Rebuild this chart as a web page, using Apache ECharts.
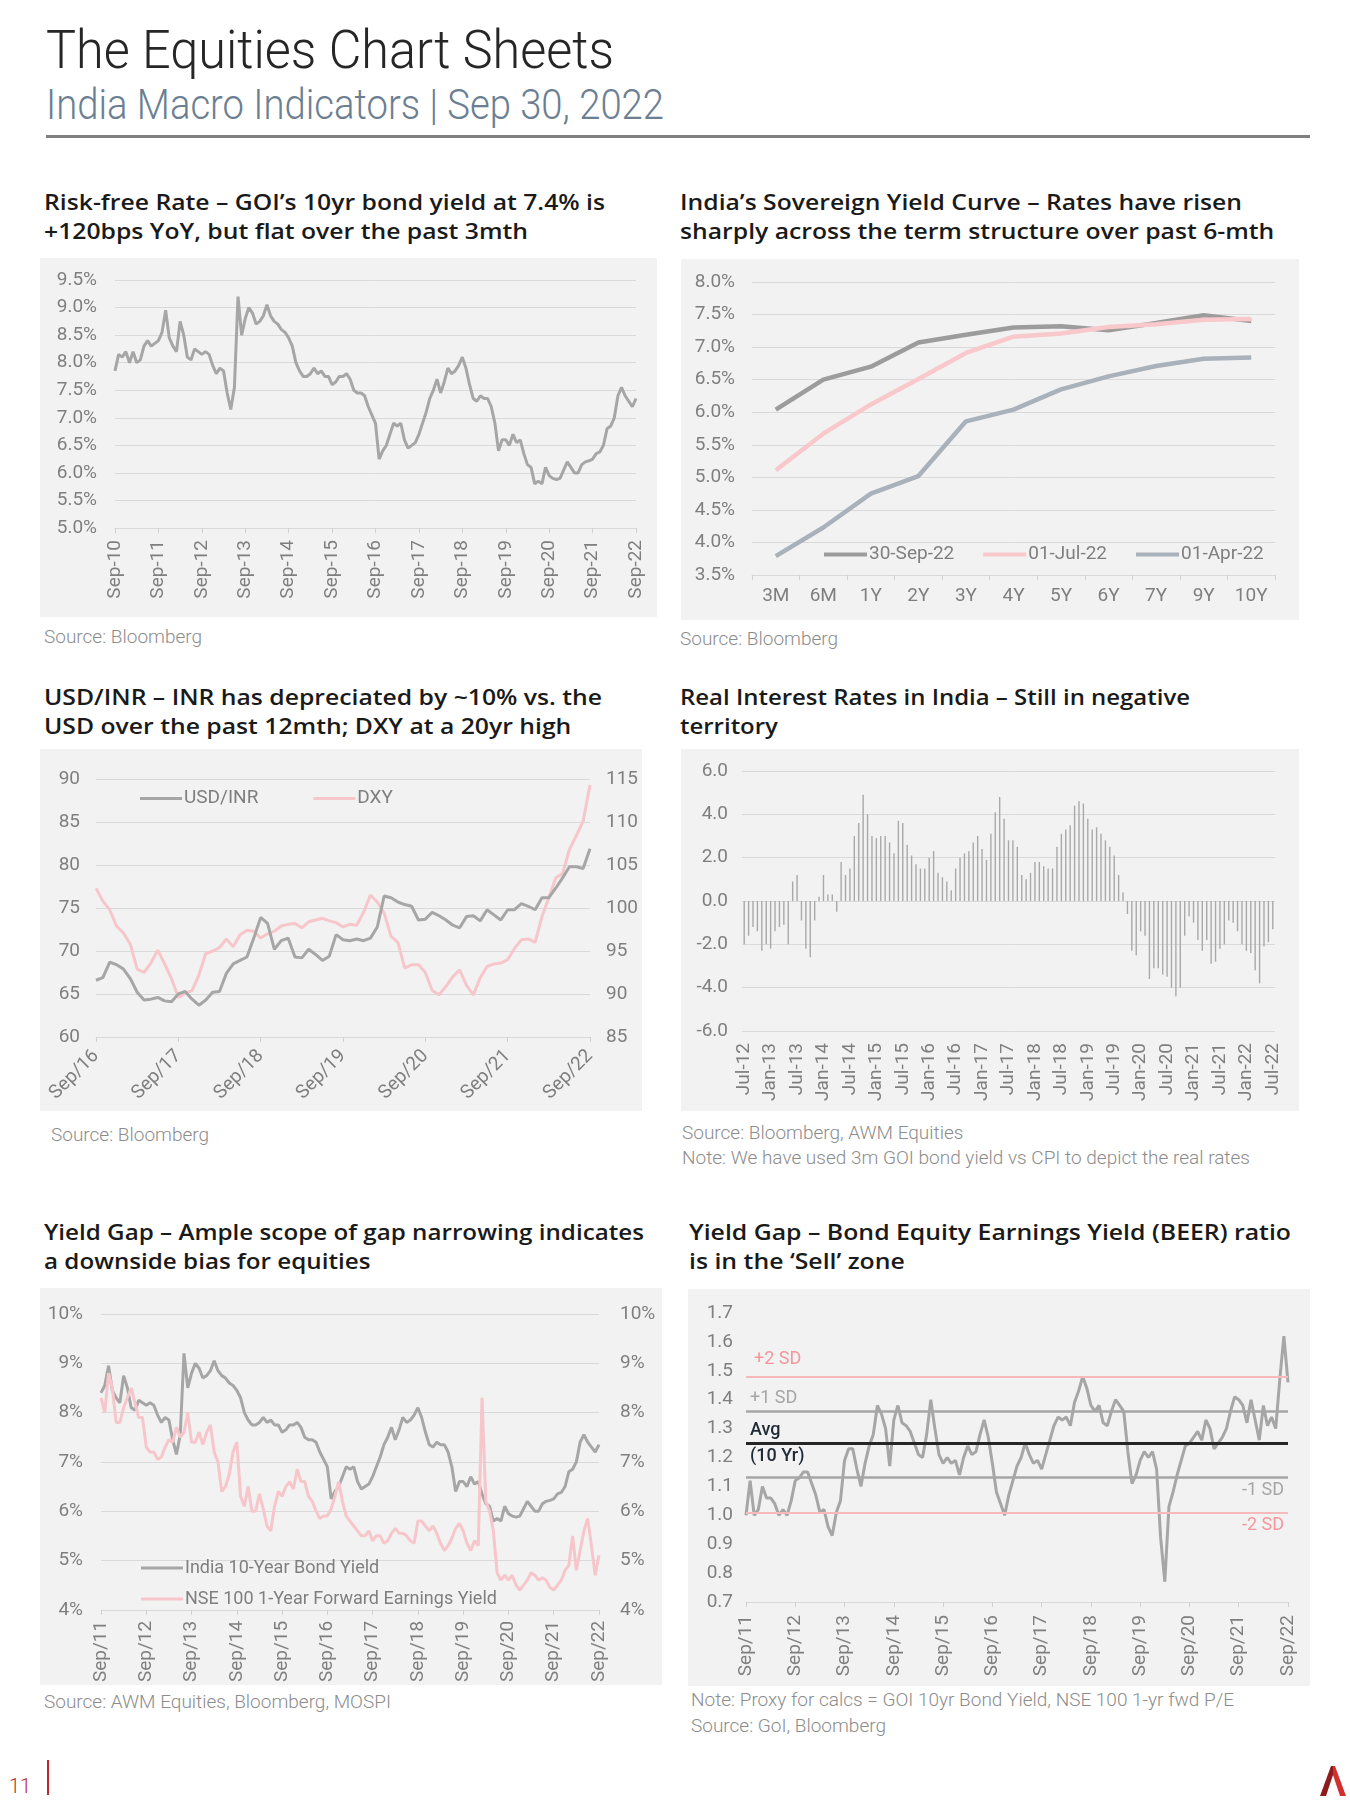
<!DOCTYPE html>
<html><head><meta charset="utf-8">
<script src="https://cdn.jsdelivr.net/npm/echarts@6/dist/echarts.min.js"></script>
<style>
html,body{margin:0;padding:0;background:#fff;}
body{width:1350px;height:1800px;position:relative;overflow:hidden;font-family:Roboto,'Noto Sans',sans-serif;}
.abs{position:absolute;}
.h1{left:46px;top:23px;font:300 54px/54px Roboto;color:#262626;white-space:nowrap;transform-origin:0 0;}
.h2{left:46px;top:84px;font:300 42px/42px Roboto;color:#6b7e92;white-space:nowrap;transform-origin:0 0;}
.rule{left:46px;top:135px;width:1264px;height:3px;background:#808080;}
.ptitle{position:absolute;font:600 22px/29px 'Open Sans';color:#1a1a1a;white-space:nowrap;transform-origin:0 0;}
.src{position:absolute;font:300 19px/25px Roboto;color:#8c8c8c;white-space:nowrap;}
.chart{position:absolute;background:#f2f2f2;}
</style></head>
<body>
<div class="abs h1" id="h1">The Equities Chart Sheets</div>
<div class="abs h2" id="h2">India Macro Indicators | Sep 30, 2022</div>
<div class="abs rule"></div>

<div class="ptitle" id="t1" style="left:44px;top:187px"><span>Risk-free Rate – GOI’s 10yr bond yield at 7.4% is</span><br><span>+120bps YoY, but flat over the past 3mth</span></div>
<div class="ptitle" id="t2" style="left:680px;top:187px"><span>India’s Sovereign Yield Curve – Rates have risen</span><br><span>sharply across the term structure over past 6-mth</span></div>
<div class="ptitle" id="t3" style="left:44px;top:682px"><span>USD/INR – INR has depreciated by ~10% vs. the</span><br><span>USD over the past 12mth; DXY at a 20yr high</span></div>
<div class="ptitle" id="t4" style="left:680px;top:682px"><span>Real Interest Rates in India – Still in negative</span><br><span>territory</span></div>
<div class="ptitle" id="t5" style="left:44px;top:1217px"><span>Yield Gap – Ample scope of gap narrowing indicates</span><br><span>a downside bias for equities</span></div>
<div class="ptitle" id="t6" style="left:689px;top:1217px"><span>Yield Gap – Bond Equity Earnings Yield (BEER) ratio</span><br><span>is in the ‘Sell’ zone</span></div>

<div class="chart" id="c1" style="left:40px;top:258px;width:617px;height:359px"></div>
<div class="chart" id="c2" style="left:681px;top:259px;width:618px;height:361px"></div>
<div class="chart" id="c3" style="left:40px;top:749px;width:602px;height:362px"></div>
<div class="chart" id="c4" style="left:681px;top:749px;width:618px;height:362px"></div>
<div class="chart" id="c5" style="left:40px;top:1288px;width:622px;height:397px"></div>
<div class="chart" id="c6" style="left:688px;top:1289px;width:622px;height:397px"></div>

<div class="src" style="left:44px;top:624px">Source: Bloomberg</div>
<div class="src" style="left:680px;top:626px">Source: Bloomberg</div>
<div class="src" style="left:51px;top:1122px">Source: Bloomberg</div>
<div class="src" style="left:682px;top:1120px">Source: Bloomberg, AWM Equities</div>
<div class="src" style="left:682px;top:1145px">Note: We have used 3m GOI bond yield vs CPI to depict the real rates</div>
<div class="src" style="left:44px;top:1689px">Source: AWM Equities, Bloomberg, MOSPI</div>
<div class="src" style="left:691px;top:1687px">Note: Proxy for calcs = GOI 10yr Bond Yield, NSE 100 1-yr fwd P/E</div>
<div class="src" style="left:691px;top:1713px">Source: GoI, Bloomberg</div>

<div class="abs" style="left:9px;top:1774px;font:300 20px/24px Roboto;color:#c0272d">11</div>
<div class="abs" style="left:47px;top:1760px;width:2px;height:35px;background:#c0272d"></div>
<svg class="abs" style="left:1318px;top:1766px" width="30" height="30" viewBox="0 0 30 30">
  <polygon points="13,0 15,0 15,9 8,30 2,30" fill="#8e1c1c"/>
  <polygon points="15,0 17,0 28,30 22,30 15,9" fill="#d32f2f"/>
</svg>

<script>
// ---------- DATA ----------
// Panel 1: GOI 10yr bond yield (%), monthly Sep-10 .. Sep-22
const bond10y = [7.85, 8.15, 8.1, 8.2, 8.0, 8.2, 8.0, 8.05, 8.3, 8.4, 8.3, 8.35,
  8.4, 8.55, 8.95, 8.45, 8.3, 8.2, 8.75, 8.5, 8.1, 8.05, 8.25, 8.2,
  8.15, 8.2, 8.15, 7.95, 7.8, 7.9, 7.85, 7.45, 7.15, 7.55, 9.2, 8.5,
  8.8, 9.0, 8.9, 8.7, 8.75, 8.85, 9.05, 8.85, 8.75, 8.7, 8.6, 8.55,
  8.45, 8.3, 8.0, 7.85, 7.75, 7.75, 7.8, 7.9, 7.8, 7.85, 7.75, 7.75,
  7.6, 7.65, 7.75, 7.75, 7.8, 7.7, 7.5, 7.45, 7.45, 7.4, 7.2, 7.05,
  6.9, 6.25, 6.4, 6.5, 6.7, 6.9, 6.85, 6.9, 6.6, 6.45, 6.5, 6.55,
  6.7, 6.9, 7.1, 7.35, 7.5, 7.7, 7.45, 7.65, 7.9, 7.8, 7.85, 7.95,
  8.1, 7.9, 7.6, 7.35, 7.3, 7.4, 7.35, 7.35, 7.2, 6.9, 6.4, 6.6,
  6.6, 6.5, 6.7, 6.55, 6.6, 6.35, 6.15, 6.1, 5.8, 5.85, 5.8, 6.1,
  5.95, 5.9, 5.88, 5.9, 6.05, 6.2, 6.1, 6.0, 6.0, 6.15, 6.2, 6.22,
  6.25, 6.35, 6.38, 6.5, 6.8, 6.85, 7.0, 7.4, 7.55, 7.4, 7.3, 7.2,
  7.35];
const p1Ticks = ['Sep-10','Sep-11','Sep-12','Sep-13','Sep-14','Sep-15','Sep-16','Sep-17','Sep-18','Sep-19','Sep-20','Sep-21','Sep-22'];

// Panel 2: yield curve (%)
const tenors = ['3M','6M','1Y','2Y','3Y','4Y','5Y','6Y','7Y','9Y','10Y'];
const curveSep22 = [6.04, 6.50, 6.70, 7.07, 7.19, 7.30, 7.32, 7.26, 7.37, 7.49, 7.40];
const curveJul22 = [5.11, 5.67, 6.12, 6.51, 6.91, 7.16, 7.21, 7.31, 7.35, 7.42, 7.43];
const curveApr22 = [3.79, 4.23, 4.75, 5.02, 5.86, 6.04, 6.35, 6.55, 6.71, 6.82, 6.84];

// Panel 3: USD/INR and DXY, monthly Sep-16 .. Sep-22
const usdinr = [66.6, 66.9, 68.7, 68.4, 67.9, 66.8, 65.2, 64.3, 64.4, 64.6, 64.2, 64.1,
  65.0, 65.3, 64.4, 63.7, 64.3, 65.2, 65.3, 67.4, 68.5, 68.9, 69.3, 71.5,
  73.9, 73.2, 70.2, 71.2, 71.5, 69.3, 69.2, 70.2, 69.6, 68.9, 69.4, 71.9,
  71.3, 71.2, 71.4, 71.2, 71.5, 72.8, 76.4, 76.2, 75.7, 75.4, 75.2, 73.6,
  73.7, 74.5, 74.1, 73.6, 73.0, 72.7, 74.0, 74.1, 73.5, 74.8, 74.2, 73.6,
  74.8, 74.8, 75.5, 75.2, 74.8, 76.2, 76.2, 77.3, 78.5, 79.8, 79.8, 79.6,
  81.9];
const dxy = [102.3, 100.8, 99.8, 97.9, 97.1, 95.8, 92.9, 92.5, 93.6, 95.1, 93.5, 91.8,
  89.6, 90.1, 90.4, 92.2, 94.7, 95.0, 95.4, 96.4, 95.5, 96.9, 97.4, 97.3,
  96.5, 97.0, 97.3, 97.9, 98.1, 98.2, 97.7, 98.4, 98.6, 98.8, 98.5, 98.3,
  97.8, 98.1, 98.0, 99.5, 101.5, 100.7, 99.4, 96.7, 96.0, 93.0, 93.4, 93.4,
  92.5, 90.4, 89.9, 90.9, 92.0, 92.8, 91.0, 89.9, 91.9, 93.2, 93.5, 93.6,
  94.0, 95.3, 96.3, 96.4, 96.0, 99.0, 101.2, 103.5, 104.0, 106.8, 108.4, 110.1,
  114.3];
const p3Ticks = ['Sep/16','Sep/17','Sep/18','Sep/19','Sep/20','Sep/21','Sep/22'];

// Panel 4: real interest rate (%), monthly Jul-12 .. Jul-22
const realRates = [-2.0, -1.6, -1.2, -1.4, -2.3, -2.0, -2.2, -1.4, -1.2, -1.1, -2.0, 0.9,
  1.2, -0.9, -2.2, -2.6, -0.9, 0.2, 1.2, 0.3, 0.3, -0.5, 1.8, 1.2,
  1.5, 3.0, 3.6, 4.9, 4.0, 3.0, 2.9, 3.0, 3.0, 2.7, 2.2, 3.7,
  3.6, 2.6, 2.1, 1.7, 1.5, 1.5, 2.0, 2.3, 1.3, 1.1, 0.9, 0.5,
  1.5, 2.0, 2.2, 2.3, 2.7, 3.0, 2.4, 1.9, 3.1, 4.1, 4.8, 3.8,
  2.8, 2.8, 2.5, 1.2, 1.0, 1.3, 1.8, 1.8, 1.6, 1.5, 1.5, 2.5,
  3.1, 3.3, 3.5, 4.4, 4.6, 4.5, 3.8, 3.3, 3.4, 3.1, 2.8, 2.5,
  2.1, 1.2, 0.4, -0.6, -2.3, -2.5, -1.4, -1.6, -3.6, -3.1, -3.1, -3.4,
  -3.5, -4.0, -4.4, -4.0, -1.6, -0.7, -1.0, -1.8, -2.3, -1.8, -2.9, -2.8,
  -2.2, -2.0, -0.9, -1.0, -1.4, -2.0, -2.3, -2.4, -3.2, -3.8, -2.1, -1.9,
  -1.3];
const MON = ['Jan','Feb','Mar','Apr','May','Jun','Jul','Aug','Sep','Oct','Nov','Dec'];
const p4Months = realRates.map((_, i) => { const t = 6 + i; return MON[t % 12] + '-' + String(12 + Math.floor(t / 12)); });

// Panel 5: 10yr bond yield (from Sep-11) vs NSE100 1-yr fwd earnings yield (%), monthly Sep-11 .. Sep-22
const bondFrom11 = bond10y.slice(12);
const earnYield = [8.3, 8.0, 8.8, 8.5, 7.8, 7.8, 8.1, 8.3, 8.5, 8.2, 7.9, 7.9,
  7.3, 7.2, 7.2, 7.05, 7.1, 7.3, 7.45, 7.4, 7.7, 7.5, 7.6, 8.0,
  7.4, 7.4, 7.6, 7.35, 7.6, 7.75, 7.2, 7.0, 6.4, 6.5, 6.75, 7.2,
  7.4, 6.3, 6.1, 6.5, 6.0, 6.0, 6.35, 6.05, 5.7, 5.6, 6.1, 6.4,
  6.3, 6.5, 6.6, 6.45, 6.85, 6.6, 6.6, 6.3, 6.2, 6.0, 5.85, 5.9,
  5.9, 6.05, 6.3, 6.6, 6.2, 5.9, 5.8, 5.7, 5.6, 5.5, 5.5, 5.6,
  5.4, 5.5, 5.5, 5.35, 5.4, 5.55, 5.65, 5.55, 5.55, 5.5, 5.4, 5.35,
  5.8, 5.8, 5.7, 5.6, 5.7, 5.55, 5.35, 5.2, 5.3, 5.45, 5.65, 5.75,
  5.6, 5.35, 5.2, 5.4, 5.3, 8.3, 6.2, 6.0, 5.6, 4.75, 4.6, 4.7,
  4.6, 4.7, 4.5, 4.4, 4.5, 4.6, 4.75, 4.7, 4.6, 4.65, 4.6, 4.45,
  4.4, 4.5, 4.6, 4.8, 4.9, 5.5, 4.8, 5.2, 5.6, 5.85, 5.3, 4.7,
  5.1];
const p56Ticks = ['Sep/11','Sep/12','Sep/13','Sep/14','Sep/15','Sep/16','Sep/17','Sep/18','Sep/19','Sep/20','Sep/21','Sep/22'];

// Panel 6: BEER ratio, monthly Sep-11 .. Sep-22, and band levels
const beer = [1.0, 1.12, 1.0, 1.02, 1.1, 1.06, 1.06, 1.04, 1.0, 1.02, 1.0, 1.05,
  1.12, 1.13, 1.15, 1.15, 1.11, 1.07, 1.01, 1.02, 0.96, 0.93, 1.01, 1.05,
  1.19, 1.23, 1.23, 1.16, 1.1, 1.18, 1.24, 1.28, 1.38, 1.35, 1.3, 1.17,
  1.33, 1.38, 1.32, 1.31, 1.29, 1.25, 1.21, 1.2, 1.28, 1.4, 1.3, 1.21,
  1.18, 1.2, 1.18, 1.19, 1.14, 1.2, 1.24, 1.21, 1.22, 1.28, 1.33, 1.27,
  1.18, 1.08, 1.04, 1.0, 1.07, 1.12, 1.17, 1.2, 1.25, 1.21, 1.18, 1.19,
  1.16, 1.21, 1.26, 1.31, 1.34, 1.33, 1.34, 1.31, 1.39, 1.43, 1.48, 1.44,
  1.38, 1.36, 1.38, 1.32, 1.31, 1.36, 1.4, 1.38, 1.36, 1.22, 1.11, 1.14,
  1.19, 1.22, 1.2, 1.22, 1.16, 0.92, 0.77, 1.03, 1.08, 1.14, 1.19, 1.24,
  1.25, 1.27, 1.29, 1.26, 1.33, 1.3, 1.23, 1.25, 1.27, 1.3, 1.36, 1.41,
  1.4, 1.38, 1.32, 1.4, 1.33, 1.26, 1.38, 1.31, 1.34, 1.3, 1.47, 1.62,
  1.46];
const beerBands = [1.48, 1.36, 1.245, 1.125, 1.01];
const beerBandLabels = ['+2 SD', '+1 SD', 'Avg', '-1 SD', '-2 SD'];

// ---------- STYLE ----------
const AX = {color: '#7f7f7f', fontSize: 19, fontFamily: 'Roboto'};
const GRIDLINE = {show: true, lineStyle: {color: '#d9d9d9', width: 1}};
const AXLINE = {show: true, lineStyle: {color: '#d9d9d9', width: 1}};
const TICK = {show: true, length: 5, lineStyle: {color: '#d0d0d0'}};
const GRAY = '#a6a6a6', PINK = '#f7c6ca';
const LW = 3;
const pairs = arr => arr.map((v, i) => [i, v]);

function mk(id, opt) {
  const c = echarts.init(document.getElementById(id), null, {renderer: 'canvas'});
  c.setOption(Object.assign({animation: false, backgroundColor: '#f2f2f2', textStyle: {fontFamily: 'Roboto'}}, opt));
}

function fit(id, target) {
  const el = document.getElementById(id);
  const first = el.querySelector('span') || el;
  const w = first.getBoundingClientRect().width;
  if (w > 0) el.style.transform = 'scaleX(' + (target / w) + ')';
}

function build() {
  fit('h1', 568); fit('h2', 618);
  fit('t1', 561); fit('t2', 562); fit('t3', 558); fit('t4', 510); fit('t5', 600); fit('t6', 602);

  // Panel 1
  mk('c1', {
    grid: {left: 75, right: 21, top: 22, bottom: 89},
    xAxis: {type: 'value', min: 0, max: 144, interval: 12,
      axisLabel: Object.assign({}, AX, {rotate: 90, margin: 12, formatter: v => p1Ticks[Math.round(v / 12)]}),
      axisLine: AXLINE, axisTick: TICK, splitLine: {show: false}},
    yAxis: {type: 'value', min: 5, max: 9.5, interval: 0.5,
      axisLabel: Object.assign({}, AX, {margin: 18, formatter: v => v.toFixed(1) + '%'}),
      splitLine: GRIDLINE, axisLine: {show: false}, axisTick: {show: false}},
    series: [{type: 'line', data: pairs(bond10y), showSymbol: false, color: GRAY, lineStyle: {color: GRAY, width: LW}}]
  });

  // Panel 2
  mk('c2', {
    grid: {left: 71, right: 24, top: 23, bottom: 45},
    legend: {left: 138, top: 281, icon: 'rect', itemWidth: 43, itemHeight: 4, itemGap: 29,
      textStyle: Object.assign({}, AX, {fontSize: 19, padding: [0, 0, 0, -3]}), data: ['30-Sep-22', '01-Jul-22', '01-Apr-22']},
    xAxis: {type: 'category', data: tenors, boundaryGap: true,
      axisLabel: Object.assign({}, AX, {margin: 12}), axisLine: AXLINE, axisTick: TICK},
    yAxis: {type: 'value', min: 3.5, max: 8, interval: 0.5,
      axisLabel: Object.assign({}, AX, {margin: 17, formatter: v => v.toFixed(1) + '%'}),
      splitLine: GRIDLINE, axisLine: {show: false}, axisTick: {show: false}},
    series: [
      {name: '30-Sep-22', type: 'line', data: curveSep22, showSymbol: false, color: '#9c9c9c', lineStyle: {color: '#9c9c9c', width: 4.5}},
      {name: '01-Jul-22', type: 'line', data: curveJul22, showSymbol: false, color: '#f8c8cb', lineStyle: {color: '#f8c8cb', width: 4.5}},
      {name: '01-Apr-22', type: 'line', data: curveApr22, showSymbol: false, color: '#a9b1bb', lineStyle: {color: '#a9b1bb', width: 4.5}}
    ]
  });

  // Panel 3
  mk('c3', {
    grid: {left: 56, right: 52, top: 30, bottom: 74},
    legend: {left: 95, top: 35, icon: 'rect', itemWidth: 42, itemHeight: 3, itemGap: 55,
      textStyle: Object.assign({}, AX, {padding: [0, 0, 0, -3]}), data: ['USD/INR', 'DXY']},
    xAxis: {type: 'value', min: 0, max: 72, interval: 12,
      axisLabel: Object.assign({}, AX, {rotate: 45, margin: 16, formatter: v => p3Ticks[Math.round(v / 12)]}),
      axisLine: AXLINE, axisTick: TICK, splitLine: {show: false}},
    yAxis: [
      {type: 'value', min: 60, max: 90, interval: 5, axisLabel: Object.assign({}, AX, {margin: 16}),
        splitLine: GRIDLINE, axisLine: {show: false}, axisTick: {show: false}},
      {type: 'value', min: 85, max: 115, interval: 5, position: 'right', axisLabel: Object.assign({}, AX, {margin: 16}),
        splitLine: {show: false}, axisLine: {show: false}, axisTick: {show: false}}
    ],
    series: [
      {name: 'DXY', type: 'line', yAxisIndex: 1, data: pairs(dxy), showSymbol: false, color: PINK, lineStyle: {color: PINK, width: LW}},
      {name: 'USD/INR', type: 'line', yAxisIndex: 0, data: pairs(usdinr), showSymbol: false, color: GRAY, lineStyle: {color: GRAY, width: LW}}
    ]
  });

  // Panel 4
  mk('c4', {
    grid: {left: 61, right: 24, top: 22, bottom: 80},
    xAxis: {type: 'category', data: p4Months,
      axisLabel: Object.assign({}, AX, {rotate: 90, interval: 5, margin: 12}),
      axisLine: {show: false, onZero: false}, axisTick: {show: false}},
    yAxis: {type: 'value', min: -6, max: 6, interval: 2,
      axisLabel: Object.assign({}, AX, {margin: 14, formatter: v => v.toFixed(1)}),
      splitLine: GRIDLINE, axisLine: {show: false}, axisTick: {show: false}},
    series: [{type: 'bar', data: realRates, barWidth: 1.4, itemStyle: {color: '#a9a9a9'}}]
  });

  // Panel 5
  mk('c5', {
    grid: {left: 61, right: 63, top: 26, bottom: 71},
    legend: {orient: 'vertical', left: 96, top: 265, icon: 'rect', itemWidth: 42, itemHeight: 3, itemGap: 11,
      textStyle: Object.assign({}, AX, {fontSize: 18, lineHeight: 20, padding: [0, 0, 0, -3]}),
      data: ['India 10-Year Bond Yield', 'NSE 100 1-Year Forward Earnings Yield']},
    xAxis: {type: 'value', min: 0, max: 132, interval: 12,
      axisLabel: Object.assign({}, AX, {rotate: 90, margin: 11, formatter: v => p56Ticks[Math.round(v / 12)]}),
      axisLine: AXLINE, axisTick: TICK, splitLine: {show: false}},
    yAxis: [
      {type: 'value', min: 4, max: 10, interval: 1, axisLabel: Object.assign({}, AX, {margin: 18, formatter: v => v + '%'}),
        splitLine: GRIDLINE, axisLine: {show: false}, axisTick: {show: false}},
      {type: 'value', min: 4, max: 10, interval: 1, position: 'right', axisLabel: Object.assign({}, AX, {margin: 21, formatter: v => v + '%'}),
        splitLine: {show: false}, axisLine: {show: false}, axisTick: {show: false}}
    ],
    series: [
      {name: 'India 10-Year Bond Yield', type: 'line', data: pairs(bondFrom11), showSymbol: false, color: GRAY, lineStyle: {color: GRAY, width: LW}},
      {name: 'NSE 100 1-Year Forward Earnings Yield', type: 'line', yAxisIndex: 1, data: pairs(earnYield), showSymbol: false, color: PINK, lineStyle: {color: PINK, width: LW}}
    ]
  });

  // Panel 6
  const bandStyle = [
    {line: '#f6b9bc', width: 2, text: '#f2989d', pos: 'insideStartTop'},
    {line: '#a6a6a6', width: 2.5, text: '#a6a6a6', pos: 'insideStartTop'},
    {line: '#262626', width: 3, text: '#1f2a36', pos: 'insideStartTop'},
    {line: '#a6a6a6', width: 2.5, text: '#a6a6a6', pos: 'insideEndBottom'},
    {line: '#f6b9bc', width: 2, text: '#f2989d', pos: 'insideEndBottom'}
  ];
  const bandData = beerBands.map((y, i) => ({
    yAxis: y,
    lineStyle: {color: bandStyle[i].line, width: bandStyle[i].width, type: 'solid'},
    label: {show: true, formatter: beerBandLabels[i], position: bandStyle[i].pos, color: bandStyle[i].text,
      fontSize: 18, fontFamily: 'Roboto', fontWeight: i === 2 ? 500 : 400, distance: i === 0 ? 8 : 4}
  }));
  bandData.push({
    yAxis: beerBands[2], lineStyle: {color: 'rgba(0,0,0,0)', width: 1, type: 'solid'},
    label: {show: true, formatter: '(10 Yr)', position: 'insideStartBottom', color: '#1f2a36', fontSize: 18, fontFamily: 'Roboto', fontWeight: 500, distance: 4}
  });
  mk('c6', {
    grid: {left: 58, right: 22, top: 24, bottom: 84},
    xAxis: {type: 'value', min: 0, max: 132, interval: 12,
      axisLabel: Object.assign({}, AX, {rotate: 90, margin: 13, formatter: v => p56Ticks[Math.round(v / 12)]}),
      axisLine: AXLINE, axisTick: TICK, splitLine: {show: false}},
    yAxis: {type: 'value', min: 0.7, max: 1.7, interval: 0.1,
      axisLabel: Object.assign({}, AX, {margin: 13, formatter: v => v.toFixed(1)}),
      splitLine: {show: false}, axisLine: {show: false}, axisTick: {show: false}},
    series: [{type: 'line', data: pairs(beer), showSymbol: false, color: GRAY, lineStyle: {color: GRAY, width: LW}, z: 3,
      markLine: {symbol: 'none', silent: true, animation: false, data: bandData}}]
  });
}

if (document.fonts && document.fonts.ready) { document.fonts.ready.then(build); } else { build(); }
</script>
</body></html>
